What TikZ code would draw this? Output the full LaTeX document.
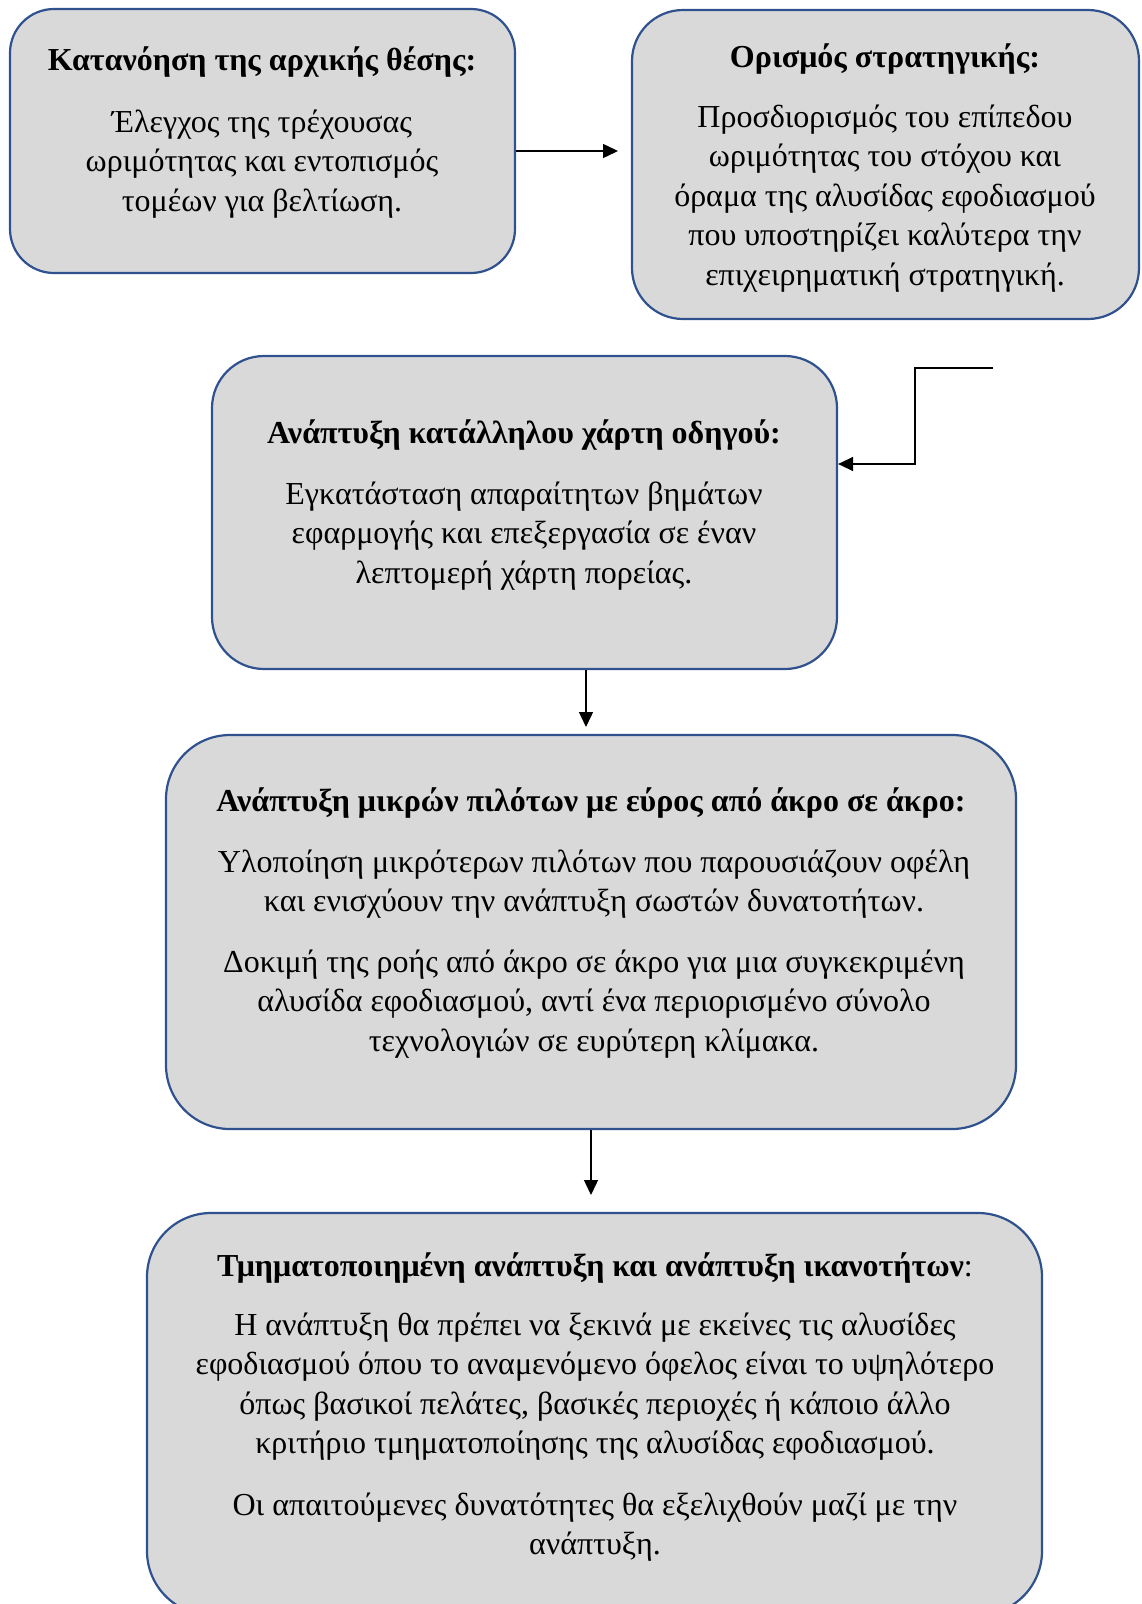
\documentclass[tikz,border=0pt]{standalone}
\usepackage{fontspec}
\setmainfont{Liberation Serif}
\usetikzlibrary{arrows.meta}
\definecolor{edgeblue}{HTML}{2F528F}
\definecolor{boxgray}{HTML}{D9D9D9}
% distance from the top of a text block to its first baseline
\def\fromtop{27.65}
\tikzset{
  stagebox/.style={draw=edgeblue, fill=boxgray, line width=2.2pt, inner sep=0pt},
  bodytext/.style={font=\fontsize{32}{39.5}\selectfont, align=center, inner sep=0pt, anchor=north},
  headtext/.style={bodytext, font=\fontsize{32}{39.5}\selectfont\bfseries},
  flow/.style={-{Triangle[length=15pt,width=14pt]}, line width=1.4pt},
}
\begin{document}
\begin{tikzpicture}[x=1pt,y=-1pt]
\path[use as bounding box] (0,0) rectangle (1142,1604);

% stage boxes
\node[stagebox, minimum width=505pt, minimum height=264pt, rounded corners=44pt] (b1) at (262.5,141) {};
\node[stagebox, minimum width=507pt, minimum height=309pt, rounded corners=51pt] (b2) at (885.5,164.5) {};
\node[stagebox, minimum width=625pt, minimum height=313pt, rounded corners=52pt] (b3) at (524.5,512.5) {};
\node[stagebox, minimum width=850pt, minimum height=394pt, rounded corners=64pt] (b4) at (591,932) {};
\node[stagebox, minimum width=895pt, minimum height=402pt, rounded corners=64pt] (b5) at (594.5,1414) {};

% box 1
\node[headtext] (t1) at (262,{70-\fromtop}) {\strut Κατανόηση της αρχικής θέσης:};
\node[bodytext] (p1) at (262,{132-\fromtop}) {\strut Έλεγχος της τρέχουσας\\ ωριμότητας και εντοπισμός\\ τομέων για βελτίωση.};

% box 2
\node[headtext] (t2) at (885,{67-\fromtop}) {\strut Ορισμός στρατηγικής:};
\node[bodytext] (p2) at (885,{127-\fromtop}) {\strut Προσδιορισμός του επίπεδου\\ ωριμότητας του στόχου και\\ όραμα της αλυσίδας εφοδιασμού\\ που υποστηρίζει καλύτερα την\\ επιχειρηματική στρατηγική.};

% box 3
\node[headtext] (t3) at (524,{443-\fromtop}) {\strut Ανάπτυξη κατάλληλου χάρτη οδηγού:};
\node[bodytext] (p3) at (524,{504-\fromtop}) {\strut Εγκατάσταση απαραίτητων βημάτων\\ εφαρμογής και επεξεργασία σε έναν\\ λεπτομερή χάρτη πορείας.};

% box 4
\node[headtext] (t4) at (591,{811-\fromtop}) {\strut Ανάπτυξη μικρών πιλότων με εύρος από άκρο σε άκρο:};
\node[bodytext] (p4a) at (594,{872-\fromtop}) {\strut Υλοποίηση μικρότερων πιλότων που παρουσιάζουν οφέλη\\ και ενισχύουν την ανάπτυξη σωστών δυνατοτήτων.};
\node[bodytext] (p4b) at (594,{972-\fromtop}) {\strut Δοκιμή της ροής από άκρο σε άκρο για μια συγκεκριμένη\\ αλυσίδα εφοδιασμού, αντί ένα περιορισμένο σύνολο\\ τεχνολογιών σε ευρύτερη κλίμακα.};

% box 5
\node[headtext] (t5) at (595,{1276-\fromtop}) {\strut Τμηματοποιημένη ανάπτυξη και ανάπτυξη ικανοτήτων\mdseries:};
\node[bodytext] (p5a) at (595,{1335-\fromtop}) {\strut Η ανάπτυξη θα πρέπει να ξεκινά με εκείνες τις αλυσίδες\\ εφοδιασμού όπου το αναμενόμενο όφελος είναι το υψηλότερο\\ όπως βασικοί πελάτες, βασικές περιοχές ή κάποιο άλλο\\ κριτήριο τμηματοποίησης της αλυσίδας εφοδιασμού.};
\node[bodytext] (p5b) at (595,{1515-\fromtop}) {\strut Οι απαιτούμενες δυνατότητες θα εξελιχθούν μαζί με την\\ ανάπτυξη.};

% connectors
\coordinate (a1) at (618,151);
\draw[flow] (b1.east |- a1) -- (a1);

\coordinate (k1) at (993,368);
\coordinate (k2) at (915,464);
\draw[flow] (k1) -| (k2) -- (k2 -| b3.east);

\coordinate (a3) at (586,727);
\draw[flow] (b3.south -| a3) -- (a3);

\coordinate (a4) at (591,1195);
\draw[flow] (b4.south -| a4) -- (a4);
\end{tikzpicture}
\end{document}
